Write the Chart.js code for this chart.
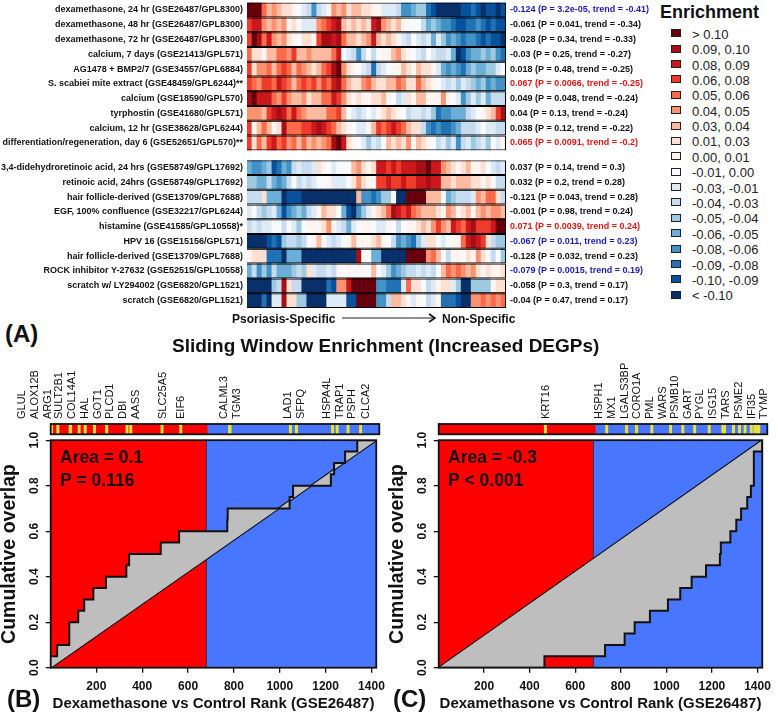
<!DOCTYPE html>
<html>
<head>
<meta charset="utf-8">
<title>Sliding Window Enrichment</title>
<script src="https://cdn.jsdelivr.net/npm/chart.js@4"></script>
<style>
    html, body { margin: 0; padding: 0; background: #fff; }
    body { position: relative; width: 778px; height: 714px; overflow: hidden; font-family: "Liberation Sans", Arial, sans-serif; color: #111; }
    canvas { position: absolute; }
    .txt { position: absolute; white-space: nowrap; line-height: 1; }
    .swatch { position: absolute; width: 8px; height: 6px; border: 1px solid #222; }
</style>
</head>
<body>
<canvas id="heatTop" width="660" height="171" style="left:0;top:-10px"></canvas>
<canvas id="heatBottom" width="660" height="168" style="left:0;top:150px"></canvas>
<canvas id="rugB" width="392" height="80" style="left:0;top:360px"></canvas>
<canvas id="rugC" width="390" height="80" style="left:388px;top:360px"></canvas>
<canvas id="overlapB" width="392" height="284" style="left:0;top:430px"></canvas>
<canvas id="overlapC" width="390" height="284" style="left:388px;top:430px"></canvas>

<div class="txt" style="left:232px;top:312px;font:bold 12px 'Liberation Sans'">Psoriasis-Specific</div>
<svg style="position:absolute;left:340px;top:312px" width="98" height="12">
    <line x1="2" y1="6" x2="94" y2="6" stroke="#222" stroke-width="1"></line>
    <polyline points="89,2 95,6 89,10" fill="none" stroke="#111" stroke-width="1.6"></polyline>
</svg>
<div class="txt" style="left:442px;top:312px;font:bold 12px 'Liberation Sans'">Non-Specific</div>
<div class="txt" style="left:5px;top:320px;font:bold 24px 'Liberation Sans'">(A)</div>
<div class="txt" style="left:172px;top:335px;font:bold 19px 'Liberation Sans'">Sliding Window Enrichment (Increased DEGPs)</div>
<div class="txt" style="left:7px;top:685px;font:bold 24px 'Liberation Sans'">(B)</div>
<div class="txt" style="left:393px;top:685px;font:bold 24px 'Liberation Sans'">(C)</div>
<div class="txt" style="left:660px;top:2px;font:bold 18px 'Liberation Sans'">Enrichment</div>
<div id="legend"></div>

<script>
// Colour classes, from > 0.10 down to < -0.10
var legendLabels = ['> 0.10', '0.09, 0.10', '0.08, 0.09', '0.06, 0.08', '0.05, 0.06', '0.04, 0.05', '0.03, 0.04', '0.01, 0.03', '0.00, 0.01',
    '-0.01, 0.00', '-0.03, -0.01', '-0.04, -0.03', '-0.05, -0.04', '-0.06, -0.05', '-0.08, -0.06', '-0.09, -0.08', '-0.10, -0.09', '< -0.10'];
var legendColors = ['#67000d', '#a50f15', '#cb181d', '#ef3b2c', '#fb6a4a', '#fc9272', '#fcbba1', '#fee0d2', '#fff5f0',
    '#f7fbff', '#deebf7', '#c6dbef', '#9ecae1', '#6baed6', '#4292c6', '#2171b5', '#08519c', '#08306b'];

// Heat map rows: enrichment class per window (9 = > 0.10 ... 1 = 0.00-0.01, -1 = -0.01-0.00 ... -9 = < -0.10)
var labelsTop = ['dexamethasone, 24 hr (GSE26487/GPL8300)', 'dexamethasone, 48 hr (GSE26487/GPL8300)', 'dexamethasone, 72 hr (GSE26487/GPL8300)',
    'calcium, 7 days (GSE21413/GPL571)', 'AG1478 + BMP2/7 (GSE34557/GPL6884)', 'S. scabiei mite extract (GSE48459/GPL6244)**',
    'calcium (GSE18590/GPL570)', 'tyrphostin (GSE41680/GPL571)', 'calcium, 12 hr (GSE38628/GPL6244)', 'differentiation/regeneration, day 6 (GSE52651/GPL570)**'];
var statsTop = ['-0.124 (P = 3.2e-05, trend = -0.41)', '-0.061 (P = 0.041, trend = -0.34)', '-0.028 (P = 0.34, trend = -0.33)',
    '-0.03 (P = 0.25, trend = -0.27)', '0.018 (P = 0.48, trend = -0.25)', '0.067 (P = 0.0066, trend = -0.25)',
    '0.049 (P = 0.048, trend = -0.24)', '0.04 (P = 0.13, trend = -0.24)', '0.038 (P = 0.12, trend = -0.22)', '0.065 (P = 0.0091, trend = -0.2)'];
var statColorsTop = ['#1a1ab8', '#111', '#111', '#111', '#111', '#e01515', '#111', '#111', '#111', '#e01515'];

var labelsBottom = ['3,4-didehydroretinoic acid, 24 hrs (GSE58749/GPL17692)', 'retinoic acid, 24hrs (GSE58749/GPL17692)', 'hair follicle-derived (GSE13709/GPL7688)',
    'EGF, 100% confluence (GSE32217/GPL6244)', 'histamine (GSE41585/GPL10558)*', 'HPV 16 (GSE15156/GPL571)', 'hair follicle-derived (GSE13709/GPL7688)',
    'ROCK inhibitor Y-27632 (GSE52515/GPL10558)', 'scratch w/ LY294002 (GSE6820/GPL1521)', 'scratch (GSE6820/GPL1521)'];
var statsBottom = ['0.037 (P = 0.14, trend = 0.3)', '0.032 (P = 0.2, trend = 0.28)', '-0.121 (P = 0.043, trend = 0.28)', '-0.001 (P = 0.98, trend = 0.24)',
    '0.071 (P = 0.0039, trend = 0.24)', '-0.067 (P = 0.011, trend = 0.23)', '-0.128 (P = 0.032, trend = 0.23)', '-0.079 (P = 0.0015, trend = 0.19)',
    '-0.058 (P = 0.3, trend = 0.17)', '-0.04 (P = 0.47, trend = 0.17)'];
var statColorsBottom = ['#111', '#111', '#111', '#111', '#e01515', '#1a1ab8', '#111', '#1a1ab8', '#111', '#111'];

var rowDex24 = [9,9,9,5,3,4,3,2,2,1,-1,-2,-3,-6,-3,-2,1,4,3,4,2,3,3,2,2,1,1,-2,-2,-2,-3,-6,-6,-5,-4,-4,-7,-8,-9,-9,-9,-9,-9,-8,-8,-7,-8,-9,-8,-8,-9,-8];
var rowDex48 = [6,7,7,4,3,4,3,4,1,2,-1,-2,-2,-2,4,5,6,7,8,3,2,3,2,3,2,7,8,4,3,2,3,1,-1,-1,-1,-3,-5,-4,-5,-6,-6,-7,-8,-8,-7,-7,-6,-7,-8,-7,-8,-8];
var rowDex72 = [6,9,8,5,7,4,3,4,2,1,-1,2,2,1,6,8,8,7,8,5,3,3,2,3,4,7,3,2,3,2,1,-2,-3,-1,-2,-3,-2,-5,-2,-4,-6,-5,-6,-7,-6,-6,-7,-8,-7,-8,-8,-9];
var rowCal7 = [5,2,2,1,3,3,5,5,4,6,3,3,4,3,3,3,3,5,7,-1,-2,-3,-6,-3,-1,-3,-1,1,1,3,4,2,1,-1,-2,-3,-1,-2,-3,-3,-2,-5,-9,-8,-6,-5,-5,-4,-5,-4,-6,-7];
var rowAg1478 = [6,2,4,4,5,3,5,6,5,3,5,4,3,2,3,5,6,8,9,4,2,1,-1,-2,-3,-7,-3,-2,-1,1,1,3,2,1,3,2,2,1,-2,-5,-6,-5,-6,-7,-5,-4,-5,-5,-4,-4,-2,-1];
var rowScabiei = [6,5,4,6,6,5,7,6,5,3,5,6,5,6,4,6,5,7,8,5,3,2,2,4,5,3,2,2,3,3,5,4,2,2,5,3,2,1,-1,-2,-3,-2,-4,-2,-3,-4,-5,-4,-6,-5,-6,-6];
var rowCalcium = [8,9,7,7,7,5,4,6,4,3,3,4,2,3,3,5,5,7,6,4,2,1,2,1,1,2,2,3,1,-1,-3,-2,2,1,3,3,1,1,1,4,1,-1,-2,-6,-4,-2,-4,-2,-5,-3,-3,-3];
var rowTyrphostin = [4,4,4,3,6,7,8,7,5,7,5,4,3,3,3,3,5,5,6,3,-1,-2,-3,-2,-1,-2,1,2,3,2,1,-1,-3,-2,-2,-3,-2,-4,-7,-6,-6,-5,-5,-5,-3,-2,-1,1,2,3,6,8];
var rowCal12 = [6,1,3,5,3,1,2,8,5,5,5,6,6,7,8,7,6,5,3,2,1,-1,-2,-2,1,3,6,5,6,7,6,5,3,2,2,-3,-6,-7,-6,-7,-7,-6,-5,-3,-3,-3,-2,-1,-2,-2,-3,-3];
var rowDiff = [6,2,5,3,6,7,5,6,4,5,3,5,3,4,3,4,5,8,9,7,2,1,-1,-2,-4,-2,-3,-1,3,2,3,2,4,1,3,2,1,-1,-3,-2,-4,-2,-6,-3,-2,-4,-3,-2,-4,-1,-2,1];

var rowDidehydro = [-5,-6,-6,-5,-4,-8,-7,-5,-6,-3,-2,-3,-3,-2,2,1,-1,-2,-1,-1,-1,3,4,2,1,2,7,7,6,7,6,7,7,7,8,8,9,7,7,4,3,2,1,2,3,1,1,2,-1,-2,-3,-2];
var rowRetinoic = [-4,-4,-5,-5,-3,-5,-6,-5,-3,-1,-3,-2,-3,-2,-1,-1,1,-2,-2,-2,-1,2,4,2,1,1,6,6,7,6,6,7,6,6,7,7,8,7,7,3,3,2,3,3,3,2,2,1,2,-1,-3,-3];
var rowHair1 = [-3,-3,-3,2,-5,-5,-5,-9,-8,-8,-8,-9,-9,-9,-9,-9,-9,-9,-9,-9,-9,-9,3,-6,-6,-7,-6,-4,-4,1,-9,-9,9,9,9,9,3,3,3,-1,-5,-4,-3,-3,-3,-2,4,3,5,5,2,-3];
var rowEgf = [-2,-1,-3,-4,-3,-2,-5,-8,-6,-5,-4,-5,-3,-2,1,3,2,2,-1,-5,-8,-9,-6,-4,-2,1,2,3,5,8,7,6,7,5,4,3,3,3,2,1,4,3,1,2,3,1,3,4,3,4,4,3];
var rowHistamine = [-3,-2,-3,-2,-2,-1,-1,-3,-1,-2,-4,-1,1,1,1,2,4,1,-2,-3,-5,-2,-1,1,1,-1,-2,-2,1,-1,-3,-1,1,1,2,3,2,4,6,4,3,7,6,5,7,8,6,6,6,7,9,9];
var rowHpv = [-9,-9,-9,-9,-8,-7,-8,-4,-3,-3,-4,-3,-1,1,3,-1,-2,-3,-2,-1,1,3,1,1,1,2,3,1,-1,-3,-6,-5,-6,-7,-4,-2,2,2,-1,-2,-1,1,1,5,7,8,7,6,2,-3,-4,-4];
var rowHair2 = [1,2,2,2,-7,-7,-7,-9,-5,-5,-5,-9,-9,-9,-9,-9,-9,-9,-9,-9,-9,-9,8,1,-1,-5,-5,-9,-9,-9,-9,-9,9,9,9,9,4,5,3,-1,-3,1,1,-1,2,1,4,2,-1,-3,-1,-4];
var rowRock = [-5,-3,-6,-4,-6,-3,-5,-5,-5,-4,-3,-4,2,-2,-3,-3,-2,-3,1,-1,1,-1,1,-1,-1,3,-1,-2,-4,-6,-5,-4,-3,-3,-2,-3,-2,-3,-1,3,5,4,5,4,3,4,2,1,2,1,1,2];
var rowScratchLy = [-9,-9,-9,-9,-9,-4,-3,8,2,-3,-3,-9,-9,-9,-9,-9,-7,-8,4,4,7,9,9,9,9,9,-6,-6,-7,-7,-7,-2,5,2,2,-1,-3,-2,1,2,2,-2,-4,-9,-9,-4,-4,-4,-4,1,2,2];
var rowScratch = [-9,-9,-9,-7,-9,-2,-2,8,2,2,-4,-4,-9,-9,-9,-9,-2,-2,-2,-2,-8,-8,9,9,9,9,-6,-6,-3,3,3,2,1,-2,1,-1,-3,-2,1,-7,-7,-7,-8,-9,-9,4,4,5,4,5,4,5];

var rowsTop = [rowDex24, rowDex48, rowDex72, rowCal7, rowAg1478, rowScabiei, rowCalcium, rowTyrphostin, rowCal12, rowDiff];
var rowsBottom = [rowDidehydro, rowRetinoic, rowHair1, rowEgf, rowHistamine, rowHpv, rowHair2, rowRock, rowScratchLy, rowScratch];

// Overlap panels
var rankMin = 1;
var rankMax = 1421;
var rankSplit = 680;
var rankTicks = [200, 400, 600, 800, 1000, 1200, 1400];
var overlapTicks = [0, 0.2, 0.4, 0.6, 0.8, 1];

var genesB = ['GLUL', 'ALOX12B', 'ARG1', 'SULT2B1', 'COL14A1', 'HAL', 'GOT1', 'PLCD1', 'DBI', 'AASS', 'SLC25A5', 'EIF6', 'CALML3', 'TGM3', 'LAD1', 'SFPQ', 'HSPA4L', 'TRAP1', 'PSPH', 'CLCA2'];
var geneLabelRanksB = [-125, -67, -10, 38, 92, 151, 204, 259, 314, 370, 484, 566, 750, 804, 1027, 1082, 1197, 1249, 1304, 1363];
var hitRanksB = [5, 32, 85, 87, 124, 150, 190, 243, 331, 347, 482, 563, 774, 776, 1037, 1063, 1219, 1239, 1286, 1340];
var curveRanksB = [1, 29, 82, 121, 147, 187, 242, 331, 343, 481, 561, 771, 773, 1043, 1058, 1223, 1237, 1285, 1338, 1421];
var curveValuesB = [0.05, 0.1, 0.2, 0.25, 0.3, 0.35, 0.4, 0.45, 0.5, 0.55, 0.6, 0.65, 0.7, 0.75, 0.8, 0.85, 0.9, 0.95, 1, 1];
var panelTextB = ['Area = 0.1', 'P = 0.116'];

var genesC = ['KRT16', 'HSPH1', 'MX1', 'LGALS3BP', 'CORO1A', 'PML', 'WARS', 'PSMB10', 'GART', 'PYGL', 'ISG15', 'TARS', 'PSME2', 'IFI35', 'TYMP'];
var geneLabelRanksC = [463, 695, 751, 804, 859, 915, 968, 1023, 1078, 1132, 1187, 1243, 1298, 1354, 1406];
var hitRanksC = [462, 727, 813, 856, 922, 1003, 1056, 1107, 1170, 1229, 1236, 1275, 1301, 1325, 1352, 1367, 1379, 1384];
var curveRanksC = [1, 465, 731, 817, 861, 928, 1007, 1061, 1111, 1174, 1235, 1239, 1281, 1307, 1328, 1355, 1371, 1384, 1384, 1421];
var curveValuesC = [0, 0.05, 0.1, 0.15, 0.2, 0.25, 0.3, 0.35, 0.4, 0.45, 0.5, 0.55, 0.6, 0.65, 0.7, 0.75, 0.8, 0.9, 0.95, 1];
var panelTextC = ['Area = -0.3', 'P < 0.001'];

var fontFamily = "'Liberation Sans', Arial, sans-serif";
var redFill = '#ff0000';
var blueFill = '#4876ff';
var greyFill = '#bebebe';
var rugYellow = '#e8e23a';

// Black box round the chart area
var framePlugin = {
    id: 'plotFrame',
    afterDatasetsDraw: function(chart) {
        var area = chart.chartArea;
        var ctx = chart.ctx;
        ctx.save();
        ctx.strokeStyle = '#111';
        ctx.lineWidth = 1.8;
        ctx.strokeRect(area.left, area.top, area.right - area.left, area.bottom - area.top);
        ctx.restore();
    }
};

// Legend
var legendEl = document.getElementById('legend');
legendLabels.forEach(function(label, i) {
    var y = 33.3 + i * 15.38;
    var box = document.createElement('span');
    box.className = 'swatch';
    box.style.left = '671px';
    box.style.top = (y - 4) + 'px';
    box.style.background = legendColors[i];
    legendEl.appendChild(box);
    var text = document.createElement('div');
    text.className = 'txt';
    text.style.left = '692px';
    text.style.top = (y - 6.5) + 'px';
    text.style.font = "13px 'Liberation Sans'";
    text.style.color = '#222';
    text.textContent = label;
    legendEl.appendChild(text);
});

function levelColor(level) {
    return level > 0 ? legendColors[9 - level] : legendColors[8 - level];
}

function renderHeatChart(canvasId, labels, stats, statColors, rows, padTop, padBottom) {
    // row keys, two rows share one label text
    var rowKeys = labels.map(function(label, r) { return 'row' + r; });
    var cells = [];
    var cellColors = [];
    var frames = [];
    rows.forEach(function(row, r) {
        row.forEach(function(level, c) {
            cells.push({ x: [c, c + 1], y: rowKeys[r] });
            cellColors.push(levelColor(level));
        });
        frames.push({ x: [0, row.length], y: rowKeys[r] });
    });

    return new Chart(document.getElementById(canvasId), {
        type: 'bar',
        data: {
            labels: rowKeys,
            datasets: [{
                data: frames,
                order: 0,
                grouped: false,
                barPercentage: 1,
                categoryPercentage: 1,
                backgroundColor: 'rgba(0,0,0,0)',
                borderColor: '#000',
                borderWidth: 1,
                inflateAmount: 0
            }, {
                data: cells,
                order: 1,
                grouped: false,
                barPercentage: 1,
                categoryPercentage: 1,
                backgroundColor: cellColors,
                borderWidth: 0
            }]
        },
        options: {
            indexAxis: 'y',
            responsive: false,
            animation: false,
            events: [],
            layout: { padding: { top: padTop, bottom: padBottom } },
            plugins: { legend: { display: false }, tooltip: { enabled: false } },
            scales: {
                x: { type: 'linear', min: 0, max: rows[0].length, display: false },
                y: {
                    grid: { display: false, drawTicks: false },
                    border: { display: false },
                    ticks: {
                        autoSkip: false,
                        padding: 4,
                        color: '#111',
                        callback: function(value, index) { return labels[index]; },
                        font: { family: fontFamily, size: 9, weight: 'bold' }
                    },
                    afterFit: function(scale) { scale.width = 247; }
                },
                yStats: {
                    type: 'category',
                    axis: 'y',
                    position: 'right',
                    labels: stats,
                    offset: true,
                    grid: { display: false, drawTicks: false },
                    border: { display: false },
                    ticks: {
                        autoSkip: false,
                        padding: 4,
                        color: function(ctx) { return statColors[ctx.index]; },
                        font: { family: fontFamily, size: 9, weight: 'bold' }
                    },
                    afterFit: function(scale) { scale.width = 154; }
                }
            }
        }
    });
}

function renderRug(canvasId, genes, labelRanks, hits, padRight) {
    var bars = [{ x: [rankMin, rankSplit], y: 'rug' }, { x: [rankSplit, rankMax], y: 'rug' }];
    var colors = [redFill, blueFill];
    hits.forEach(function(rank) {
        bars.push({ x: [rank - 5, rank + 5], y: 'rug' });
        colors.push(rugYellow);
    });

    var geneLabels = {
        id: 'geneLabels',
        afterDraw: function(chart) {
            var ctx = chart.ctx;
            ctx.save();
            ctx.font = "11px " + fontFamily;
            ctx.fillStyle = '#111';
            ctx.textAlign = 'left';
            ctx.textBaseline = 'middle';
            genes.forEach(function(gene, i) {
                ctx.save();
                ctx.translate(chart.scales.x.getPixelForValue(labelRanks[i]), chart.chartArea.top - 5);
                ctx.rotate(-Math.PI / 2);
                ctx.fillText(gene, 0, 0);
                ctx.restore();
            });
            ctx.restore();
        }
    };

    return new Chart(document.getElementById(canvasId), {
        type: 'bar',
        data: {
            labels: ['rug'],
            datasets: [{
                data: bars,
                backgroundColor: colors,
                borderWidth: 0,
                grouped: false,
                barPercentage: 1,
                categoryPercentage: 1
            }]
        },
        options: {
            indexAxis: 'y',
            responsive: false,
            animation: false,
            events: [],
            layout: { padding: { left: 50.7, right: padRight, top: 64, bottom: 5.7 } },
            plugins: { legend: { display: false }, tooltip: { enabled: false } },
            scales: {
                x: { type: 'linear', min: rankMin, max: rankMax, display: false },
                y: { display: false }
            }
        },
        plugins: [framePlugin, geneLabels]
    });
}

function zipPoints(xs, ys) {
    return xs.map(function(x, i) { return { x: x, y: ys[i] }; });
}

function renderOverlap(canvasId, ranks, values, textLines, padRight) {
    var panelText = {
        id: 'panelText',
        afterDatasetsDraw: function(chart) {
            var ctx = chart.ctx;
            ctx.save();
            ctx.font = "bold 17.5px " + fontFamily;
            ctx.fillStyle = '#1a0505';
            ctx.textBaseline = 'middle';
            textLines.forEach(function(line, i) {
                ctx.fillText(line, chart.chartArea.left + 9.3, chart.chartArea.top + 18 + i * 22.7);
            });
            ctx.restore();
        }
    };

    return new Chart(document.getElementById(canvasId), {
        type: 'line',
        data: {
            datasets: [{
                // step curve, grey up to the diagonal
                data: zipPoints(ranks, values),
                stepped: true,
                fill: 1,
                backgroundColor: greyFill,
                borderColor: '#111',
                borderWidth: 2
            }, {
                data: [{ x: rankMin, y: 0 }, { x: rankMax, y: 1 }],
                fill: false,
                borderColor: '#000',
                borderWidth: 2
            }, {
                data: [{ x: rankSplit, y: 0 }, { x: rankSplit, y: 1 }],
                fill: false,
                borderColor: '#222a55',
                borderWidth: 1
            }, {
                data: [{ x: rankMin, y: 1 }, { x: rankSplit, y: 1 }],
                fill: 'origin',
                backgroundColor: redFill,
                borderWidth: 0
            }, {
                data: [{ x: rankSplit, y: 1 }, { x: rankMax, y: 1 }],
                fill: 'origin',
                backgroundColor: blueFill,
                borderWidth: 0
            }]
        },
        options: {
            responsive: false,
            animation: false,
            events: [],
            elements: { point: { radius: 0 }, line: { tension: 0 } },
            layout: { padding: { top: 10, right: padRight } },
            plugins: { legend: { display: false }, tooltip: { enabled: false } },
            scales: {
                x: {
                    type: 'linear',
                    min: rankMin,
                    max: rankMax,
                    afterBuildTicks: function(scale) {
                        scale.ticks = rankTicks.map(function(v) { return { value: v }; });
                    },
                    grid: { display: true, drawOnChartArea: false, drawTicks: true, tickLength: 5, color: '#111', lineWidth: 1.3 },
                    border: { display: false },
                    ticks: {
                        autoSkip: false,
                        maxRotation: 0,
                        padding: 7,
                        color: '#111',
                        callback: function(v) { return String(v); },
                        font: { family: fontFamily, size: 12, weight: 'bold' }
                    },
                    title: {
                        display: true,
                        text: 'Dexamethasone vs Control Rank (GSE26487)',
                        color: '#111',
                        padding: { top: 0, bottom: 2.5 },
                        font: { family: fontFamily, size: 15, weight: 'bold', lineHeight: 1 }
                    },
                    afterFit: function(scale) { scale.height = 46.3; }
                },
                y: {
                    type: 'linear',
                    min: 0,
                    max: 1,
                    afterBuildTicks: function(scale) {
                        scale.ticks = overlapTicks.map(function(v) { return { value: v }; });
                    },
                    grid: { display: true, drawOnChartArea: false, drawTicks: true, tickLength: 5, color: '#111', lineWidth: 1.3 },
                    border: { display: false },
                    ticks: {
                        minRotation: 90,
                        maxRotation: 90,
                        crossAlign: 'center',
                        padding: 3,
                        color: '#111',
                        callback: function(v) { return v.toFixed(1); },
                        font: { family: fontFamily, size: 12, weight: 'bold' }
                    },
                    title: {
                        display: true,
                        text: 'Cumulative overlap',
                        color: '#111',
                        padding: 0,
                        font: { family: fontFamily, size: 19.5, weight: 'bold', lineHeight: 1 }
                    },
                    afterFit: function(scale) { scale.width = 50.7; }
                }
            }
        },
        plugins: [framePlugin, panelText]
    });
}

renderHeatChart('heatTop', labelsTop, statsTop, statColorsTop, rowsTop, 12.6, 10.6);
renderHeatChart('heatBottom', labelsBottom, statsBottom, statColorsBottom, rowsBottom, 10.3, 10.1);
renderRug('rugB', genesB, geneLabelRanksB, hitRanksB, 12.7);
renderRug('rugC', genesC, geneLabelRanksC, hitRanksC, 10.7);
renderOverlap('overlapB', curveRanksB, curveValuesB, panelTextB, 12.7);
renderOverlap('overlapC', curveRanksC, curveValuesC, panelTextC, 10.7);
</script>
</body>
</html>
